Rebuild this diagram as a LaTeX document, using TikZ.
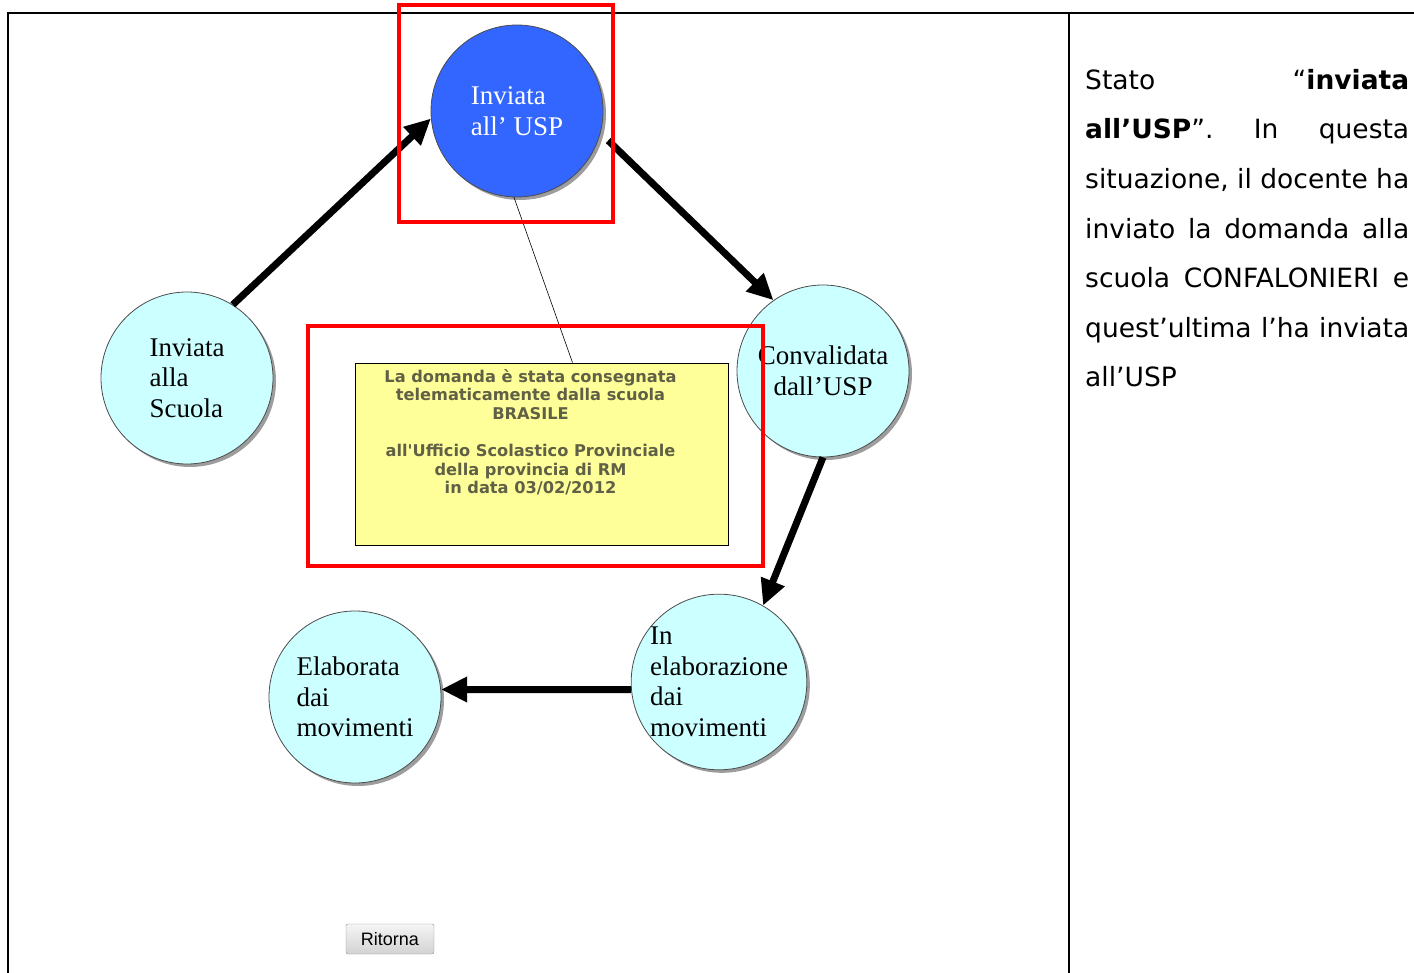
\documentclass[tikz,border=0pt]{standalone}
\usepackage{fontspec}
\usepackage{tikz}
\usetikzlibrary{positioning, arrows.meta, shadows}
\newfontfamily\circfont{Liberation Serif}
\newfontfamily\verdfont{DejaVu Sans}
\newfontfamily\btnfont{Liberation Sans}
\definecolor{statoblue}{RGB}{51, 102, 255}
\definecolor{statocyan}{RGB}{204, 255, 255}
\definecolor{noteyellow}{RGB}{255, 255, 153}
\definecolor{notetext}{RGB}{96, 96, 70}
\definecolor{hired}{RGB}{255, 0, 0}

\begin{document}
\begin{tikzpicture}[
      x=1pt, y=-1pt,
      stato/.style={circle, draw=black!70, line width=0.8pt, fill=statocyan, minimum size=172pt, inner sep=0pt,
        font=\circfont\fontsize{27}{30.5}\selectfont, align=left,
        drop shadow={shadow xshift=3pt, shadow yshift=-3pt, fill=black!55, opacity=0.7}},
      arrow/.style={-{Triangle[length=26pt, width=24pt]}, line width=7pt},
      note/.style={draw, line width=0.8pt, fill=noteyellow, minimum width=373pt, minimum height=182pt},
      hilite/.style={draw=hired, line width=4pt, inner sep=0pt},
      frame/.style={line width=2pt},
    ]
    \useasboundingbox (0,0) rectangle (1414,973);
    % Frame
    \draw[frame] (8,973) -- (8,13) -- (1414,13);
    \draw[frame] (1069,13) -- (1069,973);
    % States
    \node[stato, fill=statoblue, text=white] (usp) at (517,111) {Inviata\\all’ USP};
    \node[stato] (scuola) at (187,378) {Inviata\\alla\\Scuola};
    \node[stato, align=center] (conv) at (823,371) {Convalidata\\dall’USP};
    \node[stato] (inelab) at (719,682) {In\\elaborazione\\dai\\movimenti};
    \node[stato] (elab) at (355,697) {Elaborata\\dai\\movimenti};
    % Note
    \node[note] (nota) at (541.5,454) {};
    \node[below=3pt of nota.north, xshift=-11pt, align=center, text=notetext,
      font=\verdfont\bfseries\fontsize{16.2}{18.6}\selectfont] (notatxt)
      {La domanda è stata consegnata\\telematicamente dalla scuola\\BRASILE\\[18.6pt]all'Ufficio Scolastico Provinciale\\della provincia di RM\\in data 03/02/2012};
    \draw[line width=0.6pt] (usp.-92) -- ([xshift=31pt]nota.north);
    % Arrows
    \draw[arrow] (scuola.58) -- (usp.185);
    \draw[arrow] ([xshift=10pt]usp.-20) -- (conv.125);
    \draw[arrow] (conv.-90) -- (inelab.60);
    \draw[arrow] (inelab.185) -- (elab.5);
    % Highlights
    \node[hilite, minimum width=214pt, minimum height=217pt] (hlusp) at (506,113.5) {};
    \node[hilite, minimum width=455pt, minimum height=240pt] (hlnota) at (535.5,446) {};
    % Button
    \node[draw=black!45, rounded corners=2pt, top color=gray!8, bottom color=gray!35,
      minimum width=88pt, minimum height=30pt, inner sep=0pt,
      font=\btnfont\fontsize{18}{20}\selectfont] (ritorna) at (390,939) {Ritorna};
    % Description
    \node[anchor=north west, inner sep=0pt, text width=324pt, align=justify,
      font=\verdfont\fontsize{26.5}{49.6}\selectfont] (descr) at (1085,69)
      {Stato “\textbf{inviata\linebreak all’USP}”. In questa\linebreak situazione, il docente ha\linebreak inviato la domanda alla\linebreak scuola CONFALONIERI e\linebreak quest’ultima l’ha inviata\linebreak all’USP};
  \end{tikzpicture}
\end{document}
